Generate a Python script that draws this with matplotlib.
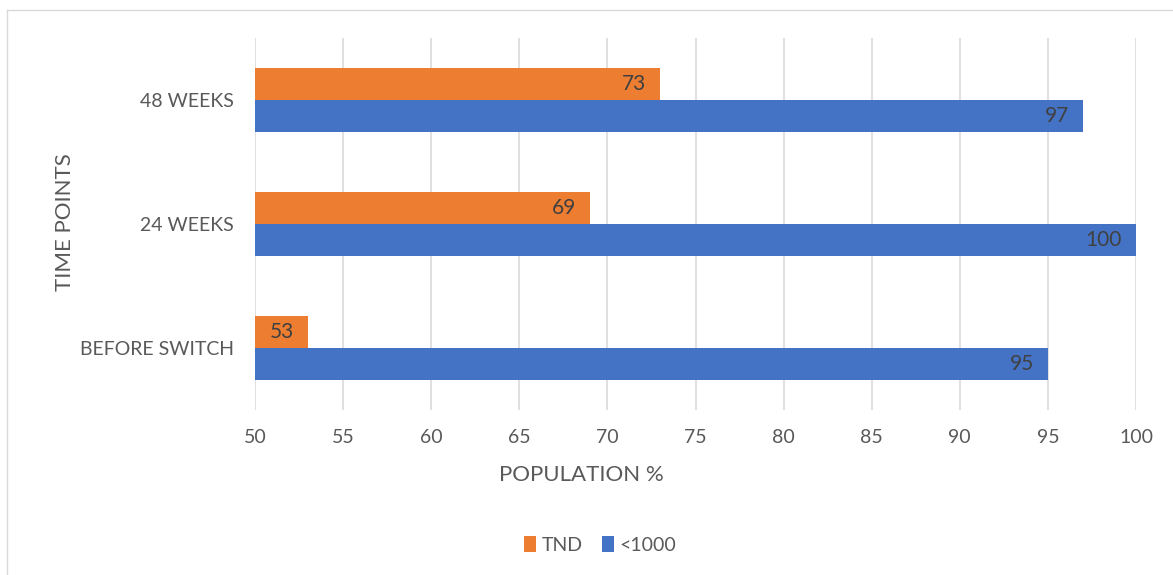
import matplotlib.pyplot as plt
import numpy as np
from matplotlib.lines import Line2D

# data
categories = ["BEFORE SWITCH", "24 WEEKS", "48 WEEKS"]
tnd = [53, 69, 73]
below_1000 = [95, 100, 97]
series_names = ["TND", "<1000"]

plt.rcParams['font.family'] = ['Lato', 'DejaVu Sans']
txt = "#595959"
orange = "#ED7D31"
blue = "#4472C4"

fig = plt.figure(figsize=(11.73, 5.75), dpi=100)
ax = fig.add_axes([255/1173, 1 - 410/575, (1136 - 255)/1173, (410 - 38)/575])

y = np.arange(len(categories))
h = 0.258
b1 = ax.barh(y + h/2, [v - 50 for v in tnd], height=h, left=50, color=orange,
             label=series_names[0], zorder=3)
b2 = ax.barh(y - h/2, [v - 50 for v in below_1000], height=h, left=50, color=blue,
             label=series_names[1], zorder=3)

for bars, vals in [(b1, tnd), (b2, below_1000)]:
    for r, v in zip(bars, vals):
        ax.text(v - 0.8, r.get_y() + r.get_height()/2, str(v), ha="right",
                va="center", fontsize=15, color="#404040", zorder=4)

ax.set_xlim(50, 100)
ax.set_ylim(-0.5, 2.5)
ax.set_xticks(range(50, 101, 5))
ax.set_yticks(y)
ax.set_yticklabels(categories)
ax.tick_params(length=0, labelsize=14, colors=txt)
ax.tick_params(axis="x", pad=14)
ax.tick_params(axis="y", pad=15)
ax.grid(axis="x", color="#d9d9d9", linewidth=1.2, zorder=0)
for s in ax.spines.values():
    s.set_visible(False)

fig.text(65/1173, 1 - 222/575, "TIME POINTS", rotation=90, ha="center",
         va="center", fontsize=16, color=txt)
fig.text(581/1173, 1 - 475/575, "POPULATION %", ha="center", va="center",
         fontsize=16, color=txt)

fig.legend(handles=[b1, b2], labels=series_names, loc="center",
           bbox_to_anchor=(600/1173, 1 - 545/575), ncol=2, frameon=False,
           fontsize=14, labelcolor=txt, handlelength=0.6, handleheight=0.9,
           handletextpad=0.3, columnspacing=1.0)

# chart border (top and left visible in the screenshot)
fig.add_artist(Line2D([7/1173, 1], [1 - 10/575, 1 - 10/575], color="#d9d9d9", lw=1))
fig.add_artist(Line2D([7/1173, 7/1173], [0, 1 - 10/575], color="#d9d9d9", lw=1))

fig.savefig("out.png", dpi=100)
